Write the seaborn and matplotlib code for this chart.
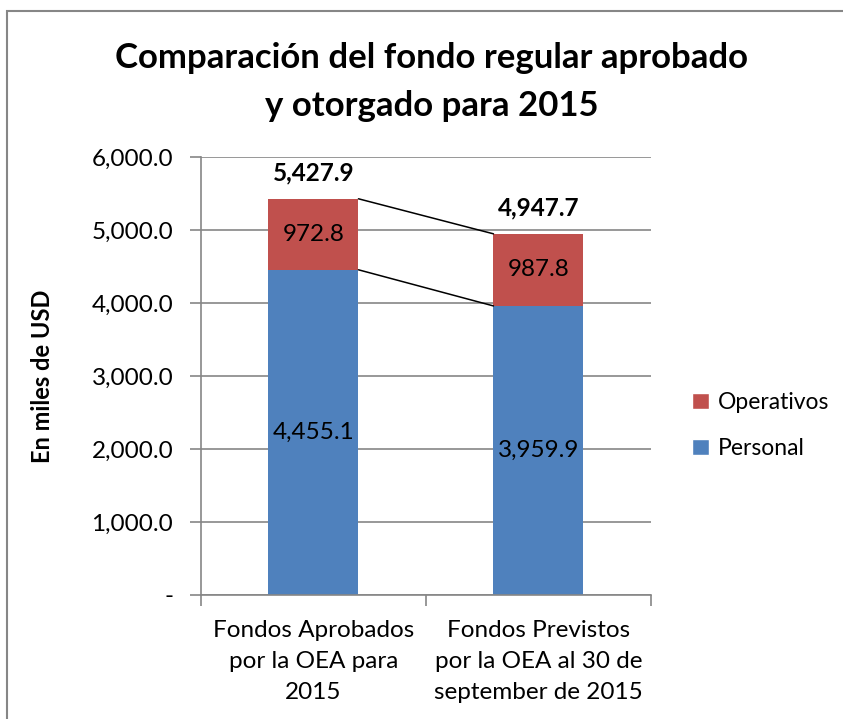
import numpy as np
import pandas as pd
import matplotlib
matplotlib.use("Agg")
import matplotlib.pyplot as plt
import seaborn as sns
from matplotlib.ticker import FuncFormatter
from matplotlib.patches import Rectangle, Patch

# Datos
categorias = ["Fondos Aprobados\npor la OEA para\n2015",
              "Fondos Previstos\npor la OEA al 30 de\nseptember de 2015"]
personal = [4455.1, 3959.9]
operativos = [972.8, 987.8]
totales = [5427.9, 4947.7]

azul = "#4F81BD"
rojo = "#C0504D"
gris = "#868686"

sns.set_theme(style="white")
plt.rcParams["font.family"] = ["Lato", "DejaVu Sans"]
plt.rcParams["text.color"] = "black"
plt.rcParams["axes.labelcolor"] = "black"

df = pd.DataFrame({"cat": categorias, "Personal": personal, "Operativos": operativos})
df["Total"] = df["Personal"] + df["Operativos"]

fig = plt.figure(figsize=(8.43, 7.19), dpi=100)
ax = fig.add_axes([0.2384, 0.1725, 0.5338, 0.6091])

sns.barplot(data=df, x="cat", y="Total", color=rojo, saturation=1, width=0.4, linewidth=0, ax=ax)
sns.barplot(data=df, x="cat", y="Personal", color=azul, saturation=1, width=0.4, linewidth=0, ax=ax)

ax.set_xlim(-0.5, 1.5)
ax.set_ylim(0, 6000)
ax.set_yticks(np.arange(0, 6001, 1000))
ax.yaxis.set_major_formatter(FuncFormatter(lambda v, p: "-" if v == 0 else f"{v:,.1f}"))
ax.grid(axis="y", color=gris, linewidth=1.2)
ax.set_axisbelow(True)
for s in ["top", "right"]:
    ax.spines[s].set_visible(False)
for s in ["left", "bottom"]:
    ax.spines[s].set_color(gris)
    ax.spines[s].set_linewidth(1.2)
ax.tick_params(axis="y", length=8, color=gris, width=1.2, labelsize=17.5, pad=12, left=True,
               labelcolor="black")
ax.tick_params(axis="x", length=0, labelsize=17.5, pad=18, labelcolor="black")
ax.set_xticks([0, 1])
ax.set_xticklabels(categorias, linespacing=1.6)
# marcas de las divisiones de categoria
ax.set_xticks([-0.5, 0.5, 1.5], minor=True)
ax.tick_params(axis="x", which="minor", length=8, color=gris, width=1.2, bottom=True)
ax.set_xlabel("")
ax.set_ylabel("En miles de USD", fontsize=17, fontweight="bold")
ax.yaxis.set_label_coords(-0.326, 0.5)

# lineas de serie
hw = 0.2
ax.plot([0 + hw, 1 - hw], [totales[0], totales[1]], color="black", linewidth=1.1)
ax.plot([0 + hw, 1 - hw], [personal[0], personal[1]], color="black", linewidth=1.1)

# etiquetas
for i in range(2):
    ax.text(i, personal[i] / 2, f"{personal[i]:,.1f}", ha="center", va="center", fontsize=17.5)
    ax.text(i, personal[i] + operativos[i] / 2, f"{operativos[i]:,.1f}", ha="center", va="center",
            fontsize=17.5)
    ax.text(i, totales[i] + 200, f"{totales[i]:,.1f}", ha="center", va="bottom", fontsize=17.5,
            fontweight="bold")

fig.text(0.512, 0.886, "Comparación del fondo regular aprobado\ny otorgado para 2015",
         ha="center", va="center", fontsize=25, fontweight="bold", linespacing=1.6)

handles = [Patch(facecolor=rojo, label="Operativos"), Patch(facecolor=azul, label="Personal")]
fig.legend(handles=handles, loc="center left", bbox_to_anchor=(0.797, 0.408), frameon=False,
           fontsize=16.5, handlelength=0.7, handleheight=0.7, handletextpad=0.4, labelspacing=1.1)

fig.patches.append(Rectangle((0.0083, -0.1), 1.1, 1.0847, transform=fig.transFigure,
                             fill=False, edgecolor=gris, linewidth=1.5))

fig.savefig("out.png", dpi=100)
